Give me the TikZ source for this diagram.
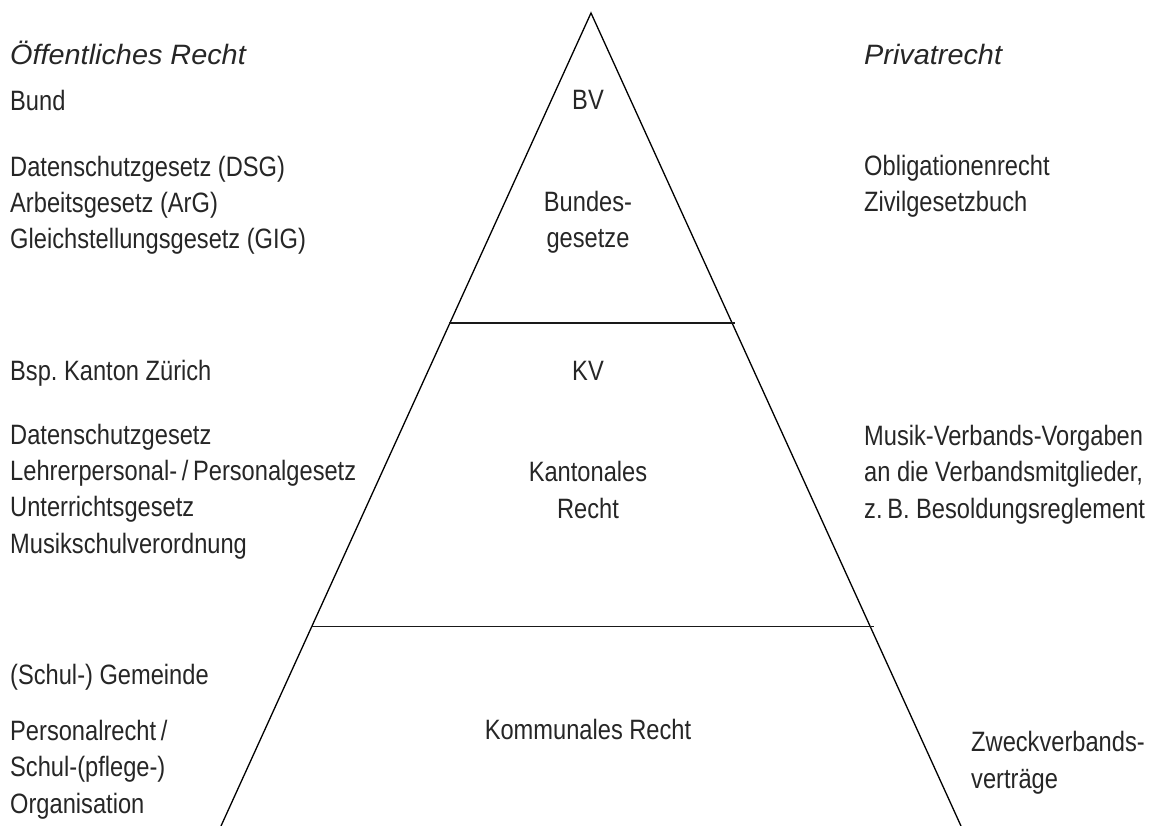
\documentclass[tikz,border=0pt]{standalone}
\usepackage{fontspec}
\setmainfont{Liberation Sans}[FakeStretch=0.845]
\newfontfamily\headfont{Liberation Sans}[FakeStretch=1.03]
\usepackage{xcolor}
\usepackage{tikz}
\usetikzlibrary{calc}
\frenchspacing
\definecolor{inkgray}{RGB}{38,38,38}
\tikzset{ law_text/.style = {inner sep=0pt, align=left, anchor=base west, text=inkgray, font=\fontsize{28}{36.2}\selectfont} }
\tikzset{ level_text/.style = {inner sep=0pt, align=center, anchor=base, text=inkgray, font=\fontsize{28}{36.2}\selectfont} }
\tikzset{ side_head/.style = {inner sep=0pt, anchor=base west, text=inkgray, font=\fontsize{28}{36}\selectfont\headfont\itshape} }
\tikzset{ edge_line/.style = {line width=1.3pt, black} }
\tikzset{ level_line/.style = {line width=1.8pt, black!90} }

\begin{document}
\begin{tikzpicture}[x=1pt, y=-1pt]
                \useasboundingbox (0, 0) rectangle (1154, 826);
                % pyramid
                \coordinate (apex) at (591, 13);
                \coordinate (baseL) at (221, 826);
                \coordinate (baseR) at (961, 826);
                \coordinate (bundL) at (449, 323);
                \coordinate (bundR) at (735, 323);
                \coordinate (kantL) at (311, 626.5);
                \coordinate (kantR) at (874, 626.5);
                \draw[edge_line] (baseL) -- (apex) -- (baseR);
                \draw[level_line] (bundL) to (bundR);
                \draw[level_line] (kantL) to (kantR);
                % levels (multi-line nodes sit on their last line)
                \node [level_text] (BV) at (588, 110) {BV};
                \node [level_text] (BG) at (588, 248) {Bundes-\\gesetze};
                \node [level_text] (KV) at (588, 381) {KV};
                \node [level_text] (KR) at (588, 518) {Kantonales\\Recht};
                \node [level_text] (KoR) at (588, 739) {Kommunales Recht};
                % public law
                \node [side_head] (oeff) at (10, 65) {Öffentliches Recht};
                \node [law_text] (bund) at (10, 111) {Bund};
                \node [law_text] (bundG) at (10, 249) {Datenschutzgesetz (DSG)\\Arbeitsgesetz (ArG)\\Gleichstellungsgesetz (GIG)};
                \node [law_text] (kanton) at (10, 380) {Bsp. Kanton Zürich};
                \node [law_text] (kantonG) at (10, 553) {Datenschutzgesetz\\Lehrerpersonal-\,/\,Personalgesetz\\Unterrichtsgesetz\\Musikschulverordnung};
                \node [law_text] (gemeinde) at (10, 684) {(Schul-) Gemeinde};
                \node [law_text] (gemeindeR) at (10, 813) {Personalrecht\,/\\Schul-(pflege-)\\Organisation};
                % private law
                \node [side_head] (priv) at (864, 65) {Privatrecht};
                \node [law_text] (privB) at (864, 212) {Obligationenrecht\\Zivilgesetzbuch};
                \node [law_text] (privK) at (864, 518) {Musik-Verbands-Vorgaben\\an die Verbandsmitglieder,\\z.\,B. Besoldungsreglement};
                \node [law_text] (privG) at (971, 788) {Zweckverbands-\\verträge};
        \end{tikzpicture}
\end{document}
